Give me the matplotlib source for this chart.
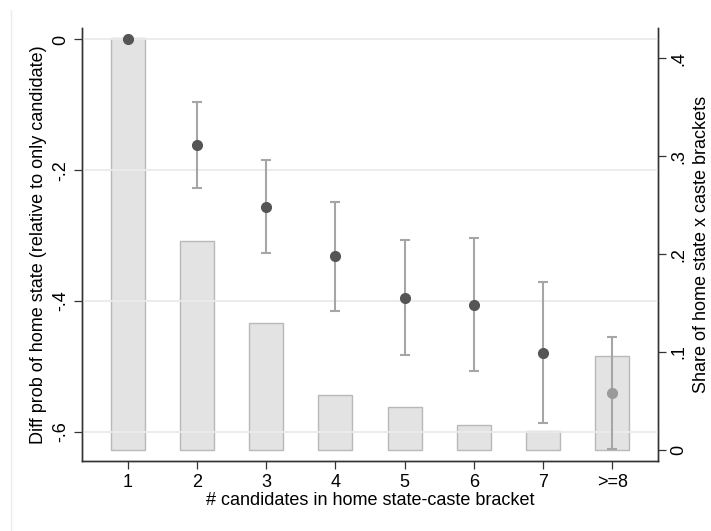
import numpy as np
import matplotlib
matplotlib.use('Agg')
import matplotlib.pyplot as plt

plt.rcParams['font.family'] = ['Liberation Sans', 'DejaVu Sans']

brackets = ['1', '2', '3', '4', '5', '6', '7', '>=8']
# estimated difference in prob. of home state, with 95% CI
diff = [0.0, -0.162, -0.256, -0.331, -0.396, -0.406, -0.479, -0.541]
ci_low = [0.0, -0.227, -0.327, -0.415, -0.483, -0.507, -0.587, -0.626]
ci_high = [0.0, -0.095, -0.185, -0.248, -0.307, -0.304, -0.371, -0.456]
# share of home state x caste brackets
share = [0.421, 0.213, 0.130, 0.056, 0.044, 0.025, 0.019, 0.096]

x = np.arange(1, len(brackets) + 1)
diff = np.array(diff)
err = [diff - np.array(ci_low), np.array(ci_high) - diff]

fig = plt.figure(figsize=(7.11, 5.31), dpi=100)
ax = fig.add_axes([0.1153, 0.1318, 0.8102, 0.8155])
ax2 = ax.twinx()
ax.set_zorder(ax2.get_zorder() + 1)
ax.patch.set_visible(False)

# bars on the right-hand axis
ax2.bar(x, share, width=0.49, color='#e3e3e3', edgecolor='#b8b8b8', linewidth=1.0)
ax2.set_ylim(-0.0113, 0.431)
ax2.set_yticks([0, 0.1, 0.2, 0.3, 0.4])
ax2.set_yticklabels(['0', '.1', '.2', '.3', '.4'], rotation=90, va='center')
ax2.set_ylabel('Share of home state x caste brackets', fontsize=13, labelpad=4)

# point estimates with CIs on the left-hand axis
ax.errorbar(x[1:], diff[1:], yerr=[err[0][1:], err[1][1:]], fmt='none',
            ecolor='#a6a6a6', elinewidth=1.5, capsize=3.5, capthick=1.5, zorder=3)
ax.plot(x[:-1], diff[:-1], 'o', color='#555555', markersize=7, zorder=4)
ax.plot(x[-1:], diff[-1:], 'o', color='#9a9a9a', markersize=7, zorder=4)

ax.set_ylim(-0.645, 0.0176)
ax.set_yticks([0, -0.2, -0.4, -0.6])
ax.set_yticklabels(['0', '-.2', '-.4', '-.6'], rotation=90, va='center')
ax.grid(axis='y', color='#ebebeb', linewidth=1.3)
ax.set_axisbelow(True)
ax.set_xlim(0.34, 8.66)
ax.set_xticks(x)
ax.set_xticklabels(brackets)
ax.set_ylabel('Diff prob of home state (relative to only candidate)', fontsize=13, labelpad=4)
ax.set_xlabel('# candidates in home state-caste bracket', fontsize=13, labelpad=1)

for a in (ax, ax2):
    a.tick_params(labelsize=13, length=6, width=0.9, color='#333333', pad=3)
    for side in ('left', 'right', 'bottom'):
        a.spines[side].set_color('#333333')
        a.spines[side].set_linewidth(1.0)
    a.spines['top'].set_visible(False)

# faint outer frame line on the left
fig.add_artist(plt.Line2D([0.0155, 0.0155], [0.0, 0.981], color='#ececec', linewidth=1.0))

fig.savefig('out.png', dpi=100)
